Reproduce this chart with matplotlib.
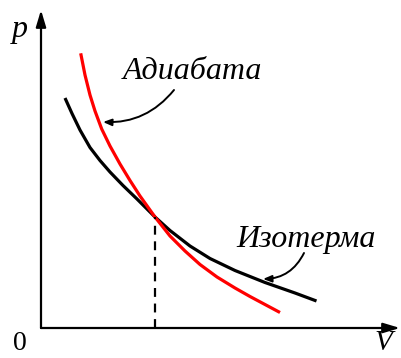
import matplotlib.pyplot as plt

# isotherm (black) and adiabat (red)
V_iso = [0.24, 0.31, 0.39, 0.49, 0.59, 0.69, 0.82, 0.96, 1.14, 1.29, 1.49,
         1.69, 1.94, 2.24, 2.54, 2.755]
p_iso = [2.30, 2.145, 1.98, 1.805, 1.675, 1.56, 1.425, 1.29, 1.11, 0.975, 0.82,
         0.695, 0.575, 0.455, 0.35, 0.27]

V_ad = [0.397, 0.44, 0.49, 0.54, 0.607, 0.69, 0.79, 0.89, 0.99, 1.14, 1.29,
        1.44, 1.59, 1.76, 1.94, 2.09, 2.24, 2.39]
p_ad = [2.747, 2.53, 2.33, 2.17, 1.99, 1.82, 1.64, 1.475, 1.32, 1.11, 0.92,
        0.77, 0.635, 0.51, 0.40, 0.315, 0.235, 0.155]

V_cross, p_cross = 1.14, 1.11

label_ad = 'Адиабата'
label_iso = 'Изотерма'

fig = plt.figure(figsize=(4.01, 3.58), dpi=100)
ax = fig.add_axes([0, 0, 1, 1])
ax.set_xlim(-0.41, 3.60)
ax.set_ylim(-0.30, 3.28)
ax.axis('off')

# axes with arrows
ax.annotate('', xy=(3.59, 0), xytext=(0, 0),
            arrowprops=dict(arrowstyle='-|>,head_length=1.0,head_width=0.3',
                            lw=1.6, color='black', shrinkA=0, shrinkB=0))
ax.annotate('', xy=(0, 3.18), xytext=(0, 0),
            arrowprops=dict(arrowstyle='-|>,head_length=1.0,head_width=0.3',
                            lw=1.6, color='black', shrinkA=0, shrinkB=0))

ax.plot(V_iso, p_iso, color='black', lw=2.3, solid_capstyle='butt',
        solid_joinstyle='round')
ax.plot(V_ad, p_ad, color='red', lw=2.3, solid_capstyle='butt',
        solid_joinstyle='round')
ax.plot([V_cross, V_cross], [0, p_cross], color='black', lw=1.6, ls=(0, (4, 3)))

serif = 'Liberation Serif'
ax.text(-0.21, 2.98, 'p', fontsize=23, fontstyle='italic', family=serif,
        ha='center', va='center')
ax.text(-0.21, -0.15, '0', fontsize=20, family=serif, ha='center', va='center')
ax.text(3.42, -0.15, 'V', fontsize=21, fontstyle='italic', family=serif,
        ha='center', va='center')

ax.text(1.51, 2.56, label_ad, fontsize=23, fontstyle='italic', family=serif,
        ha='center', va='center')
ax.text(2.65, 0.88, label_iso, fontsize=23, fontstyle='italic', family=serif,
        ha='center', va='center')

ax.annotate('', xy=(0.62, 2.06), xytext=(1.33, 2.38),
            arrowprops=dict(arrowstyle='-|>,head_length=0.5,head_width=0.2',
                            lw=1.4, color='black', shrinkA=0, shrinkB=0,
                            connectionstyle='arc3,rad=-0.25'))
ax.annotate('', xy=(2.22, 0.49), xytext=(2.63, 0.75),
            arrowprops=dict(arrowstyle='-|>,head_length=0.5,head_width=0.2',
                            lw=1.4, color='black', shrinkA=0, shrinkB=0,
                            connectionstyle='arc3,rad=-0.3'))

fig.savefig('out.png', dpi=100)
